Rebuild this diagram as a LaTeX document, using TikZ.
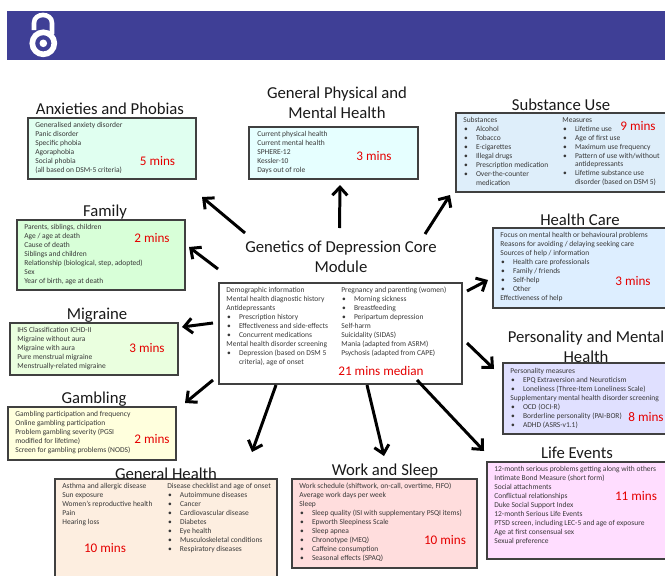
\documentclass[tikz,border=0pt]{standalone}
\usepackage{fontspec}
\setmainfont{Carlito}
\usetikzlibrary{arrows.meta}

\definecolor{bannerblue}{HTML}{3F3F96}
\tikzset{
  boxsize/.style 2 args={minimum width=#1*0.02cm,minimum height=#2*0.02cm},
  infobox/.style={draw=black!75,line width=0.7pt,inner sep=0pt},
  boxtext/.style={anchor=north west,inner sep=0pt,align=left,text=black!78,font=\fontsize{4.27}{5.1}\selectfont},
  headtext/.style={inner sep=0pt,align=center,text=black!90,font=\fontsize{9.5}{11.2}\selectfont},
  minstext/.style={inner sep=0pt,text=red!90!black,font=\fontsize{7.5}{8}\selectfont},
  linkarrow/.style={-{Straight Barb[length=4.6pt,width=8.5pt]},line width=1.7pt,black}
}
\newcommand{\itm}[1]{\makebox[7.2pt][l]{\hspace{0.4pt}\textbullet}#1}
\newcommand{\itc}[1]{\hspace*{7.2pt}#1}

\begin{document}
\begin{tikzpicture}[x=0.02cm,y=-0.02cm]
  \useasboundingbox (0,0) rectangle (665,575);

  % banner and logo
  \fill[bannerblue] (7,11) rectangle (670,60);
  \draw[white,line width=3.2pt] (43.3,43.3) circle[radius=11];
  \fill[white] (43.3,43.3) circle[radius=3.8];
  \draw[white,line width=2.6pt] (34,30) -- (34,23) .. controls (34,12.3) and (52,12.3) .. (52,23) -- (52,34);

  % boxes
  \node[infobox,boxsize={168}{61},fill={rgb,255:red,224;green,255;blue,240}] (anxbox) at (112,148.5) {};
  \node[infobox,boxsize={169}{52},fill={rgb,255:red,230;green,255;blue,255}] (physbox) at (333.5,153) {};
  \node[infobox,boxsize={219}{79},fill={rgb,255:red,222;green,238;blue,250}] (subsbox) at (565.5,152.5) {};
  \node[infobox,boxsize={168}{70},fill={rgb,255:red,216;green,255;blue,216}] (familybox) at (101,255) {};
  \node[infobox,boxsize={178}{80},fill={rgb,255:red,221;green,238;blue,255}] (carebox) at (582,268) {};
  \node[infobox,boxsize={168}{52},fill={rgb,255:red,234;green,255;blue,223}] (migrbox) at (94,349) {};
  \node[infobox,boxsize={243}{101},fill=white] (corebox) at (340.5,333.5) {};
  \node[infobox,boxsize={168}{53},fill={rgb,255:red,255;green,255;blue,221}] (gamblebox) at (92,433.5) {};
  \node[infobox,boxsize={168}{71},fill={rgb,255:red,224;green,224;blue,255}] (persbox) at (587,398.5) {};
  \node[infobox,boxsize={222}{106},fill={rgb,255:red,253;green,238;blue,224}] (genbox) at (166,532) {};
  \node[infobox,boxsize={185}{89},fill={rgb,255:red,255;green,221;blue,221}] (workbox) at (384.5,523.5) {};
  \node[infobox,boxsize={184}{97},fill={rgb,255:red,255;green,221;blue,255}] (lifebox) at (579,510.5) {};

  % headings
  \node[headtext] (anxhead) at (110,108.5) {Anxieties and Phobias};
  \node[headtext] (physhead) at (337,103) {General Physical and\\Mental Health};
  \node[headtext] (subshead) at (561,105) {Substance Use};
  \node[headtext] (familyhead) at (105,212.5) {Family};
  \node[headtext] (carehead) at (580,220) {Health Care};
  \node[headtext] (corehead) at (341,257) {Genetics of Depression Core\\Module};
  \node[headtext] (migrhead) at (97,315) {Migraine};
  \node[headtext] (pershead) at (586,347) {Personality and Mental\\Health};
  \node[headtext] (gamblehead) at (94,399) {Gambling};
  \node[headtext] (lifehead) at (577,453) {Life Events};
  \node[headtext] (workhead) at (385,471.5) {Work and Sleep};
  \node[headtext] (genhead) at (166,474) {General Health};

  % box texts
  \node[boxtext] (anxtext) at (35,122) {Generalised anxiety disorder\\Panic disorder\\Specific phobia\\Agoraphobia\\Social phobia\\(all based on DSM-5 criteria)};
  \node[boxtext] (phystext) at (257,131) {Current physical health\\Current mental health\\SPHERE-12\\Kessler-10\\Days out of role};
  \node[boxtext] (substexta) at (463,117) {Substances\\\itm{Alcohol}\\\itm{Tobacco}\\\itm{E-cigarettes}\\\itm{Illegal drugs}\\\itm{Prescription medication}\\\itm{Over-the-counter}\\\itc{medication}};
  \node[boxtext] (substextb) at (562,117) {Measures\\\itm{Lifetime use}\\\itm{Age of first use}\\\itm{Maximum use frequency}\\\itm{Pattern of use with/without}\\\itc{antidepressants}\\\itm{Lifetime substance use}\\\itc{disorder (based on DSM 5)}};
  \node[boxtext] (familytext) at (24,224) {Parents, siblings, children\\Age / age at death\\Cause of death\\Siblings and children\\Relationship (biological, step, adopted)\\Sex\\Year of birth, age at death};
  \node[boxtext] (caretext) at (500,232) {Focus on mental health or behavioural problems\\Reasons for avoiding / delaying seeking care\\Sources of help / information\\\itm{Health care professionals}\\\itm{Family / friends}\\\itm{Self-help}\\\itm{Other}\\Effectiveness of help};
  \node[boxtext] (migrtext) at (17,327) {IHS Classification ICHD-II\\Migraine without aura\\Migraine with aura\\Pure menstrual migraine\\Menstrually-related migraine};
  \node[boxtext] (coretexta) at (226,287) {Demographic information\\Mental health diagnostic history\\Antidepressants\\\itm{Prescription history}\\\itm{Effectiveness and side-effects}\\\itm{Concurrent medications}\\Mental health disorder screening\\\itm{Depression (based on DSM 5}\\\itc{criteria), age of onset}};
  \node[boxtext] (coretextb) at (341,287) {Pregnancy and parenting (women)\\\itm{Morning sickness}\\\itm{Breastfeeding}\\\itm{Peripartum depression}\\Self-harm\\Suicidality (SIDAS)\\Mania (adapted from ASRM)\\Psychosis (adapted from CAPE)};
  \node[boxtext] (gambletext) at (15,411) {Gambling participation and frequency\\Online gambling participation\\Problem gambling severity (PGSI\\modified for lifetime)\\Screen for gambling problems (NODS)};
  \node[boxtext] (perstext) at (510,368) {Personality measures\\\itm{EPQ Extraversion and Neuroticism}\\\itm{Loneliness (Three-Item Loneliness Scale)}\\Supplementary mental health disorder screening\\\itm{OCD (OCI-R)}\\\itm{Borderline personality (PAI-BOR)}\\\itm{ADHD (ASRS-v1.1)}};
  \node[boxtext] (gentexta) at (62,483) {Asthma and allergic disease\\Sun exposure\\Women's reproductive health\\Pain\\Hearing loss};
  \node[boxtext] (gentextb) at (167,483) {Disease checklist and age of onset\\\itm{Autoimmune diseases}\\\itm{Cancer}\\\itm{Cardiovascular disease}\\\itm{Diabetes}\\\itm{Eye health}\\\itm{Musculoskeletal conditions}\\\itm{Respiratory diseases}};
  \node[boxtext] (worktext) at (299,483) {Work schedule (shiftwork, on-call, overtime, FIFO)\\Average work days per week\\Sleep\\\itm{Sleep quality (ISI with supplementary PSQI items)}\\\itm{Epworth Sleepiness Scale}\\\itm{Sleep apnea}\\\itm{Chronotype (MEQ)}\\\itm{Caffeine consumption}\\\itm{Seasonal effects (SPAQ)}};
  \node[boxtext] (lifetext) at (494,466) {12-month serious problems getting along with others\\Intimate Bond Measure (short form)\\Social attachments\\Conflictual relationships\\Duke Social Support Index\\12-month Serious Life Events\\PTSD screen, including LEC-5 and age of exposure\\Age at first consensual sex\\Sexual preference};

  % times
  \node[minstext] (anxmins) at (157.5,161) {5 mins};
  \node[minstext] (physmins) at (374,156) {3 mins};
  \node[minstext] (subsmins) at (638,126) {9 mins};
  \node[minstext] (familymins) at (152,238) {2 mins};
  \node[minstext] (caremins) at (633,281) {3 mins};
  \node[minstext] (migrmins) at (147,348) {3 mins};
  \node[minstext] (coremins) at (381,371) {21 mins median};
  \node[minstext] (gamblemins) at (152,439) {2 mins};
  \node[minstext] (persmins) at (646,417) {8 mins};
  \node[minstext] (genmins) at (105,548) {10 mins};
  \node[minstext] (workmins) at (445,540) {10 mins};
  \node[minstext] (lifemins) at (636,496) {11 mins};

  % arrow ends
  \coordinate (anxa) at (245,233);   \coordinate (anxb) at (202,197);
  \coordinate (physa) at (339.5,228); \coordinate (physb) at (340,185);
  \coordinate (subsa) at (425,234);  \coordinate (subsb) at (450,195);
  \coordinate (familya) at (218,269); \coordinate (familyb) at (189,247);
  \coordinate (carea) at (467,291);  \coordinate (careb) at (488,280);
  \coordinate (persa) at (467,343);  \coordinate (persb) at (494,369);
  \coordinate (migra) at (213,323);  \coordinate (migrb) at (182,327);
  \coordinate (gamblea) at (213,380); \coordinate (gambleb) at (185,403);
  \coordinate (gena) at (276,385);   \coordinate (genb) at (252,452);
  \coordinate (worka) at (367,385);  \coordinate (workb) at (384,456);
  \coordinate (lifea) at (417,380);  \coordinate (lifeb) at (484,451);

  \foreach \name in {anx,phys,subs,family,care,pers,migr,gamble,gen,work,life}
    \draw[linkarrow] (\name a) -- (\name b);
\end{tikzpicture}
\end{document}
